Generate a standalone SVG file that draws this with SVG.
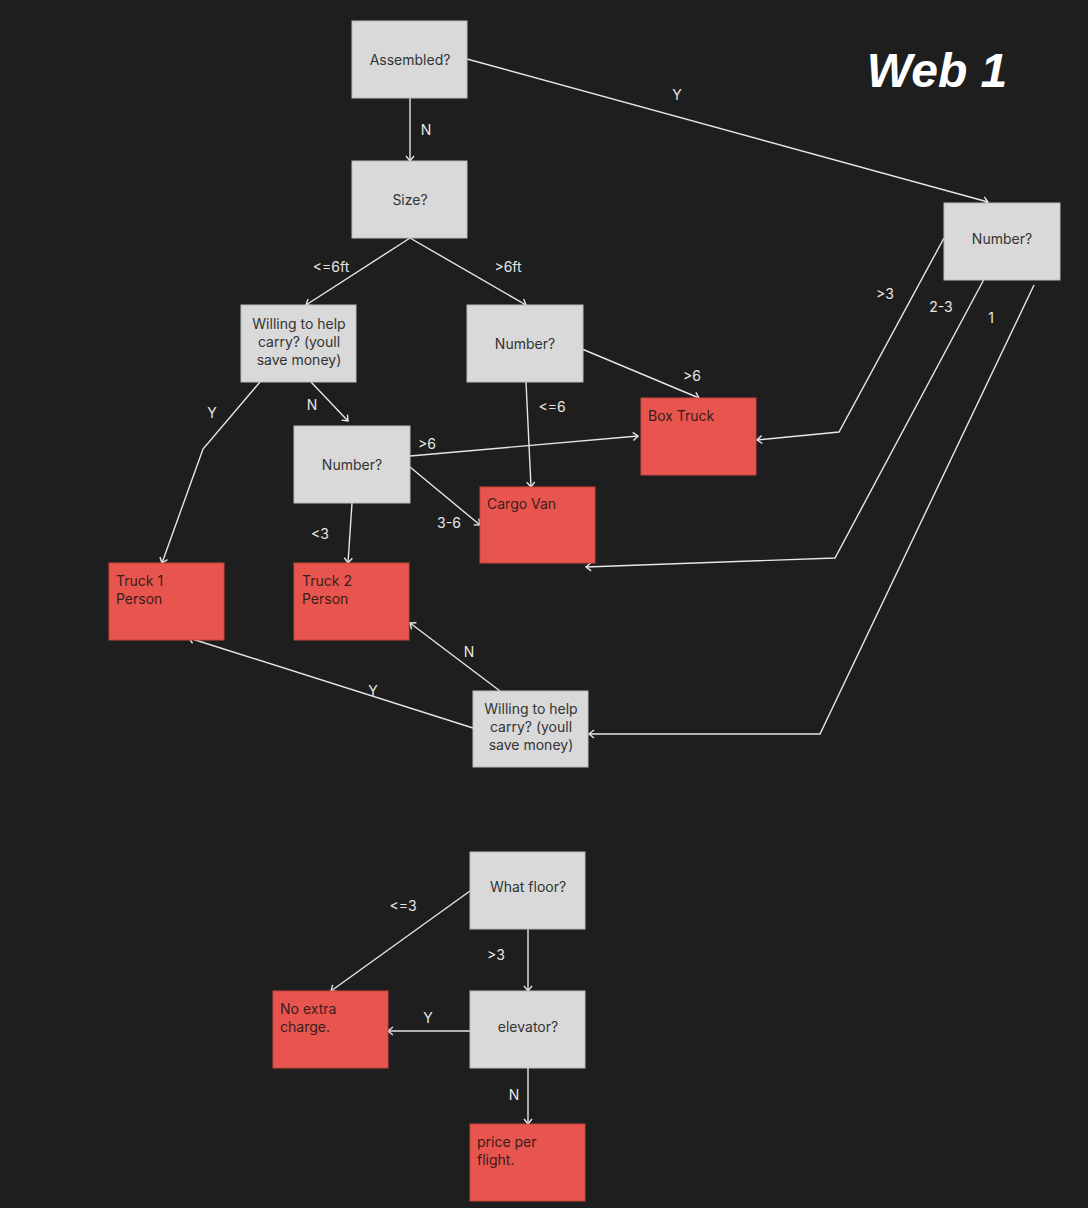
<svg xmlns="http://www.w3.org/2000/svg" width="1088" height="1208" viewBox="0 0 1088 1208">
<defs>
<marker id="arr" markerWidth="12" markerHeight="12" refX="9" refY="6" orient="auto" markerUnits="userSpaceOnUse">
<path d="M4,2 L9,6 L4,10" fill="none" stroke="#e6e6e6" stroke-width="1.4"/>
</marker>
<style>
.q{fill:#d9d9d9;stroke:#bdbdbd;stroke-width:1}
.r{fill:#e8554e;stroke:#c9443e;stroke-width:1}
.qt{font-family:Inter,"Liberation Sans",sans-serif;font-size:14px;fill:#333;text-anchor:middle}
.rt{font-family:Inter,"Liberation Sans",sans-serif;font-size:14px;fill:#3a1c1b}
.c{fill:none;stroke:#e6e6e6;stroke-width:1.4;marker-end:url(#arr)}
.l{font-family:Inter,"Liberation Sans",sans-serif;font-size:14px;fill:#e6e6e6;text-anchor:middle}
</style>
</defs>
<rect width="1088" height="1208" fill="#1e1e1e"/>
<text x="937" y="87" font-family="'Liberation Sans',sans-serif" font-weight="bold" font-style="italic" font-size="48" fill="#ffffff" text-anchor="middle">Web 1</text>

<g id="connectors">
<path class="c" d="M410,97 L410,161"/>
<path class="c" d="M467,59 L988,202"/>
<path class="c" d="M410,238 L306,305"/>
<path class="c" d="M410,238 L526,305"/>
<path class="c" d="M260,382 L203,449 L162,563"/>
<path class="c" d="M311,382 L348,421"/>
<path class="c" d="M526,382 L531,487"/>
<path class="c" d="M582,349 L699,398"/>
<path class="c" d="M410,456 L638,436"/>
<path class="c" d="M410,467 L480,525"/>
<path class="c" d="M352,503 L348,563"/>
<path class="c" d="M944,238 L839,432 L757,440"/>
<path class="c" d="M990,268 L835,558 L586,567"/>
<path class="c" d="M1034,285 L820,734 L589,734"/>
<path class="c" d="M473,728 L189,638"/>
<path class="c" d="M500,691 L410,623"/>
<path class="c" d="M470,891 L331,991"/>
<path class="c" d="M528,929 L528,991"/>
<path class="c" d="M470,1031 L388,1031"/>
<path class="c" d="M528,1068 L528,1124"/>
<text class="l" x="426" y="135">N</text>
<text class="l" x="677" y="100">Y</text>
<text class="l" x="331" y="272">&lt;=6ft</text>
<text class="l" x="508" y="272">&gt;6ft</text>
<text class="l" x="212" y="418">Y</text>
<text class="l" x="312" y="410">N</text>
<text class="l" x="552" y="412">&lt;=6</text>
<text class="l" x="692" y="381">&gt;6</text>
<text class="l" x="427" y="449">&gt;6</text>
<text class="l" x="449" y="528">3-6</text>
<text class="l" x="320" y="539">&lt;3</text>
<text class="l" x="885" y="299">&gt;3</text>
<text class="l" x="941" y="312">2-3</text>
<text class="l" x="991" y="323">1</text>
<text class="l" x="373" y="696">Y</text>
<text class="l" x="469" y="657">N</text>
<text class="l" x="403" y="911">&lt;=3</text>
<text class="l" x="496" y="960">&gt;3</text>
<text class="l" x="428" y="1023">Y</text>
<text class="l" x="514" y="1100">N</text>
</g>

<g id="assembled"><rect class="q" x="352" y="21" width="115" height="77"/><text class="qt" x="410" y="65">Assembled?</text></g>
<g id="size"><rect class="q" x="352" y="161" width="115" height="77"/><text class="qt" x="410" y="205">Size?</text></g>
<g id="number-right"><rect class="q" x="944" y="203" width="116" height="77"/><text class="qt" x="1002" y="244">Number?</text></g>
<g id="willing-1"><rect class="q" x="241" y="305" width="115" height="77"/><text class="qt" x="299" y="329">Willing to help</text><text class="qt" x="299" y="347">carry? (youll</text><text class="qt" x="299" y="365">save money)</text></g>
<g id="number-mid"><rect class="q" x="467" y="305" width="116" height="77"/><text class="qt" x="525" y="349">Number?</text></g>
<g id="number-low"><rect class="q" x="294" y="426" width="116" height="77"/><text class="qt" x="352" y="470">Number?</text></g>
<g id="box-truck"><rect class="r" x="641" y="398" width="115" height="77"/><text class="rt" x="648" y="421">Box Truck</text></g>
<g id="cargo-van"><rect class="r" x="480" y="487" width="115" height="76"/><text class="rt" x="487" y="509">Cargo Van</text></g>
<g id="truck-1"><rect class="r" x="109" y="563" width="115" height="77"/><text class="rt" x="116" y="586">Truck 1</text><text class="rt" x="116" y="604">Person</text></g>
<g id="truck-2"><rect class="r" x="294" y="563" width="115" height="77"/><text class="rt" x="302" y="586">Truck 2</text><text class="rt" x="302" y="604">Person</text></g>
<g id="willing-2"><rect class="q" x="473" y="691" width="115" height="76"/><text class="qt" x="531" y="714">Willing to help</text><text class="qt" x="531" y="732">carry? (youll</text><text class="qt" x="531" y="750">save money)</text></g>
<g id="what-floor"><rect class="q" x="470" y="852" width="115" height="77"/><text class="qt" x="528" y="892">What floor?</text></g>
<g id="elevator"><rect class="q" x="470" y="991" width="115" height="77"/><text class="qt" x="528" y="1032">elevator?</text></g>
<g id="no-extra"><rect class="r" x="273" y="991" width="115" height="77"/><text class="rt" x="280" y="1014">No extra</text><text class="rt" x="280" y="1032">charge.</text></g>
<g id="price"><rect class="r" x="470" y="1124" width="115" height="77"/><text class="rt" x="477" y="1147">price per</text><text class="rt" x="477" y="1165">flight.</text></g>
</svg>
